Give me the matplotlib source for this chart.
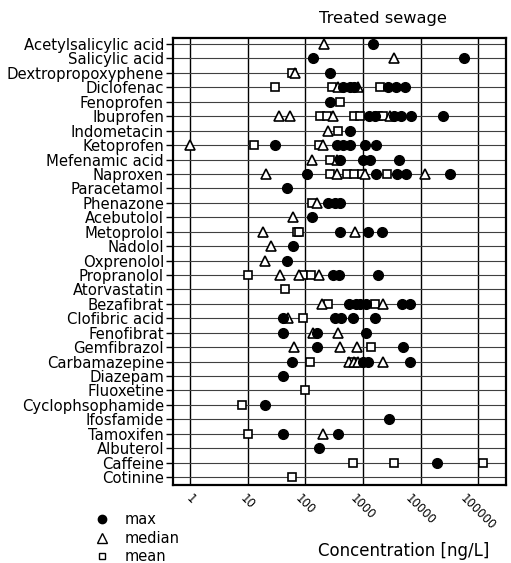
import matplotlib
matplotlib.use("Agg")
import matplotlib.pyplot as plt
from matplotlib.lines import Line2D

compounds = [
    "Acetylsalicylic acid", "Salicylic acid", "Dextropropoxyphene", "Diclofenac",
    "Fenoprofen", "Ibuprofen", "Indometacin", "Ketoprofen", "Mefenamic acid",
    "Naproxen", "Paracetamol", "Phenazone", "Acebutolol", "Metoprolol", "Nadolol",
    "Oxprenolol", "Propranolol", "Atorvastatin", "Bezafibrat", "Clofibric acid",
    "Fenofibrat", "Gemfibrazol", "Carbamazepine", "Diazepam", "Fluoxetine",
    "Cyclophsophamide", "Ifosfamide", "Tamoxifen", "Albuterol", "Caffeine", "Cotinine",
]

# reported concentrations in ng/L, one list per compound (several studies)
conc_max = [
    [1480], [137, 58000], [265], [450, 600, 700, 2700, 3800, 5300],
    [270], [1250, 1600, 3500, 4500, 6800, 25000], [590],
    [30, 350, 450, 600, 1100, 1700], [400, 1000, 1350, 4300],
    [105, 1700, 3900, 5500, 32000], [47], [250, 330, 400], [132],
    [400, 1200, 2100], [60], [48], [300, 380, 1850], [],
    [560, 750, 900, 1150, 4700, 6500], [41, 330, 420, 680, 1600],
    [41, 160, 1150], [157, 4900], [58, 1000, 1200, 6500], [40], [],
    [20], [2850], [41, 370], [175], [19000], [],
]
conc_median = [
    [210], [3500], [66], [370, 830],
    [], [35, 53, 300, 2950], [245],
    [1, 200], [130, 360],
    [21, 350, 1080, 12000], [], [160], [60],
    [18, 720], [25], [19.5], [36, 76, 175], [],
    [195, 2250], [50],
    [135, 370], [63, 400, 800], [560, 700, 830, 2250], [], [],
    [], [], [200], [], [], [],
]
conc_mean = [
    [], [], [58], [30, 290, 1950],
    [400], [180, 240, 690, 890, 1850, 2250], [370],
    [13, 175], [270],
    [270, 530, 700, 950, 2600], [], [130], [],
    [70, 78], [], [], [10, 90, 125], [44],
    [250, 1600], [90],
    [], [1400], [120, 650], [], [99],
    [7.9], [], [10], [], [660, 3500, 120000], [59],
]

decades = [1, 10, 100, 1000, 10000, 100000]


def flatten(vals):
    xs, ys = [], []
    for i, v in enumerate(vals):
        xs += v
        ys += [i] * len(v)
    return xs, ys


plt.rcParams["font.family"] = "DejaVu Sans"
fig = plt.figure(figsize=(5.11, 5.63), dpi=100)
ax = fig.add_axes([0.3386, 0.1377, 0.6517, 0.7948])

x, y = flatten(conc_mean)
ax.plot(x, y, ls="none", marker="s", ms=6.2, mfc="white", mec="black", mew=1.2, zorder=3)
x, y = flatten(conc_median)
ax.plot(x, y, ls="none", marker="^", ms=7.5, mfc="white", mec="black", mew=1.2, zorder=4)
x, y = flatten(conc_max)
ax.plot(x, y, ls="none", marker="o", ms=7, mfc="black", mec="black", zorder=5)

ax.set_xscale("log")
ax.set_xlim(0.5, 3.06e5)
ax.set_ylim(len(compounds) - 0.41, -0.42)

ax.set_xticks(decades)
ax.set_xticklabels([str(d) for d in decades], rotation=-45, ha="center", va="top", fontsize=8.5)
ax.minorticks_off()
ax.tick_params(axis="x", length=0, pad=5)

ax.set_yticks(range(len(compounds)))
ax.set_yticklabels(compounds, fontsize=10.7)
ax.tick_params(axis="y", length=5, width=1, pad=1.5)

ax.grid(axis="x", color="black", lw=1.0, zorder=1)
ax.grid(axis="y", color="#404040", lw=0.8, zorder=1)
for s in ax.spines.values():
    s.set_linewidth(1.6)

fig.text(383 / 511, 1 - 18 / 563, "Treated sewage", ha="center", va="center", fontsize=11.7)
fig.text(404 / 511, 1 - 551 / 563, "Concentration [ng/L]", ha="center", va="center", fontsize=12)

handles = [
    Line2D([], [], ls="none", marker="o", ms=6, mfc="black", mec="black"),
    Line2D([], [], ls="none", marker="^", ms=6.5, mfc="white", mec="black", mew=1),
    Line2D([], [], ls="none", marker="s", ms=5, mfc="white", mec="black", mew=1),
]
fig.legend(handles, ["max", "median", "mean"], loc="upper left",
           bbox_to_anchor=(95 / 511, 1 - 512 / 563), frameon=False, fontsize=10.5,
           handlelength=1.0, handletextpad=1.0, borderpad=0, labelspacing=0.25,
           borderaxespad=0)

fig.savefig("out.png", dpi=100)
